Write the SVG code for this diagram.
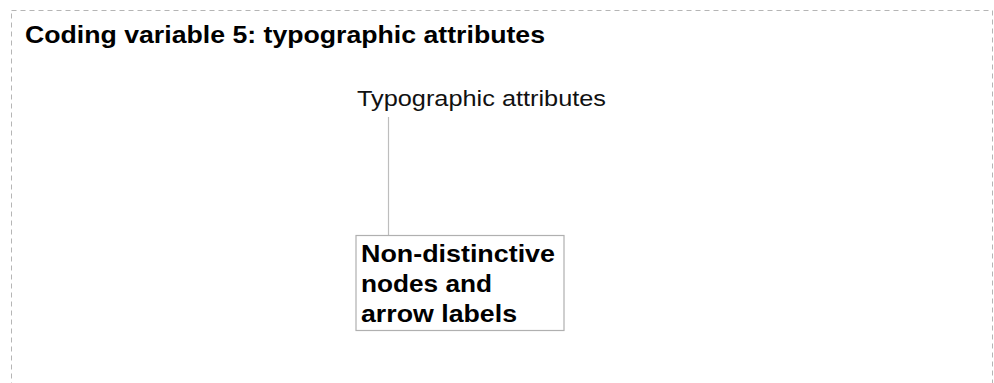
<svg xmlns="http://www.w3.org/2000/svg" width="994" height="383" viewBox="0 0 994 383">
  <style>
    .frame { fill: none; stroke: #b5b5b5; stroke-width: 1; stroke-dasharray: 5 4; }
    .title { font-family: "Liberation Sans", Arial, sans-serif; font-weight: bold; font-size: 23px; fill: #000; }
    .label { font-family: "Liberation Sans", Arial, sans-serif; font-size: 22.5px; fill: #111; }
    .nodebox { fill: #fff; stroke: #b0b0b0; stroke-width: 1.2; }
    .nodetext { font-family: "Liberation Sans", Arial, sans-serif; font-weight: bold; font-size: 24.5px; fill: #000; }
    .conn { stroke: #bdbdbd; stroke-width: 1.2; fill: none; }
  </style>
  <rect width="994" height="383" fill="#fff"/>
  <rect class="frame" x="11.5" y="10.5" width="981" height="400"/>
  <text class="title" x="25" y="43" textLength="520" lengthAdjust="spacingAndGlyphs">Coding variable 5: typographic attributes</text>
  <g id="connectors">
    <line class="conn" x1="388.5" y1="117" x2="388.5" y2="235"/>
  </g>
  <g id="node-typographic">
    <text class="label" x="357" y="106" textLength="249" lengthAdjust="spacingAndGlyphs">Typographic attributes</text>
  </g>
  <g id="node-nondistinctive">
    <rect class="nodebox" x="356" y="235.5" width="208" height="95"/>
    <text class="nodetext" x="361" y="262" textLength="194" lengthAdjust="spacingAndGlyphs">Non-distinctive</text>
    <text class="nodetext" x="361" y="292" textLength="131" lengthAdjust="spacingAndGlyphs">nodes and</text>
    <text class="nodetext" x="361" y="322" textLength="156" lengthAdjust="spacingAndGlyphs">arrow labels</text>
  </g>
</svg>
